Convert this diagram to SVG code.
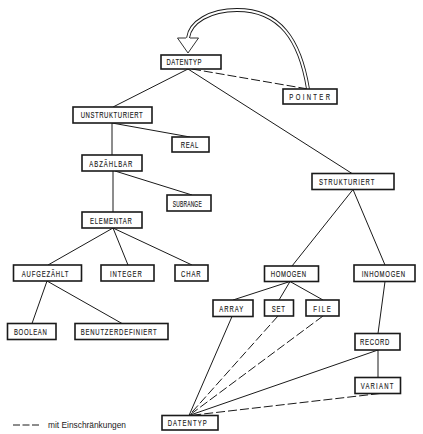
<svg xmlns="http://www.w3.org/2000/svg" width="423" height="434" viewBox="0 0 423 434">
<style>
.box{fill:#fff;stroke:#1a1a1a;stroke-width:1.6}
.lbl{font-family:"Liberation Sans",Arial,sans-serif;font-size:8.5px;fill:#1a1a1a;stroke:#1a1a1a;stroke-width:0.15}
.ln{stroke:#1a1a1a;stroke-width:1;fill:none}
.dash{stroke-dasharray:9 3}
.leg{font-family:"Liberation Sans",Arial,sans-serif;font-size:9px;fill:#1a1a1a}
</style>
<rect width="423" height="434" fill="#fff"/>
<g id="connectors">
<line class="ln" x1="188" y1="69" x2="113" y2="107"/>
<line class="ln" x1="188" y1="69" x2="352" y2="173.5"/>
<line class="ln dash" x1="192" y1="69" x2="308" y2="89"/>
<line class="ln" x1="112" y1="123" x2="190" y2="137"/>
<line class="ln" x1="112" y1="123" x2="112" y2="155"/>
<line class="ln" x1="115" y1="171" x2="192" y2="195"/>
<line class="ln" x1="113" y1="171" x2="113" y2="212"/>
<line class="ln" x1="113" y1="228" x2="48" y2="265"/>
<line class="ln" x1="113" y1="228" x2="128" y2="265"/>
<line class="ln" x1="113" y1="228" x2="192" y2="265"/>
<line class="ln" x1="47" y1="281" x2="32" y2="323.5"/>
<line class="ln" x1="47" y1="281" x2="122" y2="323.5"/>
<line class="ln" x1="353" y1="189.5" x2="292" y2="266"/>
<line class="ln" x1="353" y1="189.5" x2="385" y2="265"/>
<line class="ln" x1="290" y1="281.5" x2="233" y2="300"/>
<line class="ln" x1="290" y1="281.5" x2="279" y2="300"/>
<line class="ln" x1="290" y1="281.5" x2="323" y2="300"/>
<line class="ln" x1="385" y1="281.5" x2="378" y2="333.5"/>
<line class="ln" x1="378" y1="350" x2="378" y2="377.5"/>
<line class="ln" x1="232" y1="316.5" x2="189" y2="415.5"/>
<line class="ln dash" x1="278" y1="316" x2="189" y2="415.5"/>
<line class="ln dash" x1="323" y1="316" x2="189" y2="415.5"/>
<line class="ln" x1="378" y1="350" x2="189" y2="415.5"/>
<line class="ln dash" x1="380" y1="393.5" x2="190" y2="415.5"/>
<path d="M308 89 C300 40 280 10 237 10 C210 10 190 22 188 38" fill="none" stroke="#1a1a1a" stroke-width="3.8"/>
<path d="M308 89 C300 40 280 10 237 10 C210 10 190 22 188 38" fill="none" stroke="#fff" stroke-width="2"/>
<path d="M186 38 L177.5 38 L188 53 L198.5 38 L190 38" fill="#fff" stroke="#1a1a1a" stroke-width="0.9"/>
</g>
<g id="datentyp-top"><rect class="box" x="161" y="55" width="60" height="14"/><text class="lbl" transform="translate(166.5 65) scale(0.7 1)" textLength="50" lengthAdjust="spacing">DATENTYP</text></g>
<g id="pointer"><rect class="box" x="283" y="89" width="54" height="15"/><text class="lbl" transform="translate(289.3 99.5) scale(0.7 1)" textLength="58.1" lengthAdjust="spacing">POINTER</text></g>
<g id="unstrukturiert"><rect class="box" x="73" y="107" width="79" height="16"/><text class="lbl" transform="translate(80.7 118.3) scale(0.7 1)" textLength="88.6" lengthAdjust="spacing">UNSTRUKTURIERT</text></g>
<g id="real"><rect class="box" x="172" y="137" width="37" height="15"/><text class="lbl" transform="translate(180.7 147.8) scale(0.7 1)" textLength="25.1" lengthAdjust="spacing">REAL</text></g>
<g id="abzaehlbar"><rect class="box" x="82" y="155" width="60" height="16"/><text class="lbl" transform="translate(89.3 167) scale(0.7 1)" textLength="61.4" lengthAdjust="spacing">ABZÄHLBAR</text></g>
<g id="subrange"><rect class="box" x="167" y="195" width="44" height="16"/><text class="lbl" transform="translate(172.7 206.5) scale(0.58 1)" textLength="50" lengthAdjust="spacing">SUBRANGE</text></g>
<g id="elementar"><rect class="box" x="82" y="212" width="60" height="16"/><text class="lbl" transform="translate(90 223.5) scale(0.7 1)" textLength="59.6" lengthAdjust="spacing">ELEMENTAR</text></g>
<g id="aufgezaehlt"><rect class="box" x="13.5" y="265" width="68" height="16"/><text class="lbl" transform="translate(21.7 276.5) scale(0.7 1)" textLength="66.6" lengthAdjust="spacing">AUFGEZÄHLT</text></g>
<g id="integer"><rect class="box" x="101" y="265" width="53" height="16"/><text class="lbl" transform="translate(110 276.5) scale(0.7 1)" textLength="45.3" lengthAdjust="spacing">INTEGER</text></g>
<g id="char"><rect class="box" x="175" y="265" width="33" height="16"/><text class="lbl" transform="translate(181 276.5) scale(0.7 1)" textLength="28.1" lengthAdjust="spacing">CHAR</text></g>
<g id="boolean"><rect class="box" x="7.5" y="323.5" width="48.5" height="16"/><text class="lbl" transform="translate(14 335) scale(0.7 1)" textLength="46.7" lengthAdjust="spacing">BOOLEAN</text></g>
<g id="benutzerdefiniert"><rect class="box" x="75" y="323.5" width="93" height="16"/><text class="lbl" transform="translate(80.7 335) scale(0.7 1)" textLength="108.6" lengthAdjust="spacing">BENUTZERDEFINIERT</text></g>
<g id="strukturiert"><rect class="box" x="312" y="173.5" width="82" height="16"/><text class="lbl" transform="translate(319 185) scale(0.7 1)" textLength="79" lengthAdjust="spacing">STRUKTURIERT</text></g>
<g id="homogen"><rect class="box" x="264.5" y="266" width="54" height="15.5"/><text class="lbl" transform="translate(270.7 277.3) scale(0.7 1)" textLength="50.4" lengthAdjust="spacing">HOMOGEN</text></g>
<g id="inhomogen"><rect class="box" x="354" y="265" width="61" height="16.5"/><text class="lbl" transform="translate(361.7 277) scale(0.7 1)" textLength="61.9" lengthAdjust="spacing">INHOMOGEN</text></g>
<g id="array"><rect class="box" x="213" y="300" width="40" height="16.5"/><text class="lbl" transform="translate(219.3 311.7) scale(0.7 1)" textLength="34.3" lengthAdjust="spacing">ARRAY</text></g>
<g id="set"><rect class="box" x="264.5" y="300" width="29" height="16"/><text class="lbl" transform="translate(271.7 311.5) scale(0.7 1)" textLength="19" lengthAdjust="spacing">SET</text></g>
<g id="file"><rect class="box" x="306" y="300" width="33" height="16"/><text class="lbl" transform="translate(313.3 311.5) scale(0.7 1)" textLength="24.9" lengthAdjust="spacing">FILE</text></g>
<g id="record"><rect class="box" x="355" y="333.5" width="45" height="16.5"/><text class="lbl" transform="translate(360 345) scale(0.7 1)" textLength="41.9" lengthAdjust="spacing">RECORD</text></g>
<g id="variant"><rect class="box" x="355" y="377.5" width="45.5" height="16"/><text class="lbl" transform="translate(360.7 389) scale(0.7 1)" textLength="46.6" lengthAdjust="spacing">VARIANT</text></g>
<g id="datentyp-bottom"><rect class="box" x="162" y="415.5" width="56" height="14.5"/><text class="lbl" transform="translate(167.7 426.3) scale(0.7 1)" textLength="55.7" lengthAdjust="spacing">DATENTYP</text></g>
<g id="legend"><line class="ln" x1="13" y1="425" x2="41" y2="425" stroke-dasharray="7 2.5"/><text class="leg" x="48" y="428" textLength="78" lengthAdjust="spacingAndGlyphs">mit Einschränkungen</text></g>
</svg>
